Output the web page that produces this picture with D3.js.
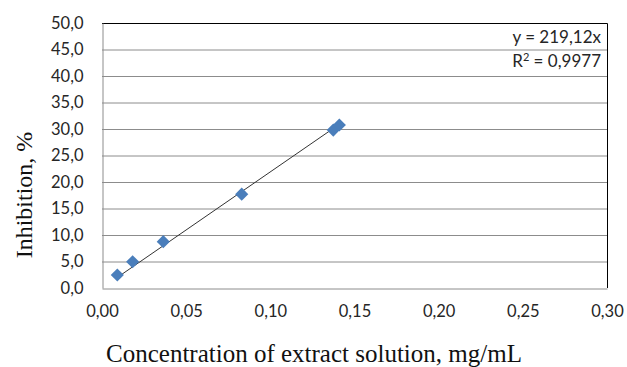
<!DOCTYPE html>
<html>
<head>
<meta charset="utf-8">
<script src="https://cdn.jsdelivr.net/npm/d3@7"></script>
<style>
  body { margin: 0; background: #fff; }
  svg { display: block; }
</style>
</head>
<body>
<svg id="chart" width="627" height="367"></svg>
<script>
var conc = [0.0091, 0.0182, 0.0364, 0.0830, 0.1374, 0.1410];
var inhibition = [2.45, 4.96, 8.74, 17.7, 29.8, 30.75];
var slope = 219.12;
var xTicks = [0, 0.05, 0.10, 0.15, 0.20, 0.25, 0.30];
var yTicks = [0, 5, 10, 15, 20, 25, 30, 35, 40, 45, 50];

var svg = d3.select('#chart');
var plotL = 102, plotR = 607, plotT = 23, plotB = 288;

var x = d3.scaleLinear().domain([0, 0.3]).range([plotL, plotR]);
var y = d3.scaleLinear().domain([0, 50]).range([plotB, plotT]);
var comma = function (fmt) { return function (d) { return d3.format(fmt)(d).replace('.', ','); }; };

// gridlines
svg.append('g').selectAll('line').data(yTicks.slice(1)).enter().append('line')
  .attr('x1', plotL).attr('x2', plotR)
  .attr('y1', function (d) { return y(d) + 0.5; }).attr('y2', function (d) { return y(d) + 0.5; })
  .attr('stroke', '#8c8c8c').attr('stroke-width', 1);

// plot border (top / right)
svg.append('path')
  .attr('d', 'M' + plotL + ',' + (plotT + 0.5) + 'H' + (plotR + 0.5) + 'V' + plotB)
  .attr('fill', 'none').attr('stroke', '#000').attr('stroke-width', 1);

// axes
var yAxis = svg.append('g').attr('transform', 'translate(' + (plotL + 0.5) + ',0)')
  .call(d3.axisLeft(y).tickValues(yTicks).tickSize(0).tickPadding(19).tickFormat(comma('.1f')));
var xAxis = svg.append('g').attr('transform', 'translate(0,' + (plotB + 0.5) + ')')
  .call(d3.axisBottom(x).tickValues(xTicks).tickSize(0).tickPadding(17).tickFormat(comma('.2f')));
[yAxis, xAxis].forEach(function (a) {
  a.select('.domain').attr('stroke', '#8c8c8c');
  a.selectAll('text').attr('fill', '#262626').style('font-family', 'Lato, "Open Sans", sans-serif').style('font-size', '16.5px');
});

// trendline
svg.append('line')
  .attr('x1', x(d3.min(conc))).attr('y1', y(slope * d3.min(conc)))
  .attr('x2', x(d3.max(conc))).attr('y2', y(slope * d3.max(conc)))
  .attr('stroke', '#333').attr('stroke-width', 1);

// markers
svg.append('g').selectAll('path').data(conc).enter().append('path')
  .attr('d', d3.symbol().type(d3.symbolDiamond2).size(110))
  .attr('transform', function (d, i) { return 'translate(' + x(d) + ',' + y(inhibition[i]) + ')'; })
  .attr('fill', '#4a7ebb');

// equation
var eq = svg.append('g').style('font-family', 'Lato, "Open Sans", sans-serif').style('font-size', '17px').attr('fill', '#262626')
  .attr('text-anchor', 'end');
eq.append('text').attr('x', 601).attr('y', 43).text('y = 219,12x');
var r2 = eq.append('text').attr('x', 601).attr('y', 67);
r2.append('tspan').text('R');
r2.append('tspan').attr('dy', -6).style('font-size', '11px').text('2');
r2.append('tspan').attr('dy', 6).text(' = 0,9977');

// axis titles
svg.append('text').attr('x', 314).attr('y', 362).attr('text-anchor', 'middle')
  .style('font-family', '"Liberation Serif", serif').style('font-size', '25px').attr('fill', '#111')
  .text('Concentration of extract solution, mg/mL');
svg.append('text').attr('transform', 'translate(32,195) rotate(-90)').attr('text-anchor', 'middle')
  .style('font-family', '"Liberation Serif", serif').style('font-size', '24px').attr('fill', '#111')
  .text('Inhibition, %');
</script>
</body>
</html>
